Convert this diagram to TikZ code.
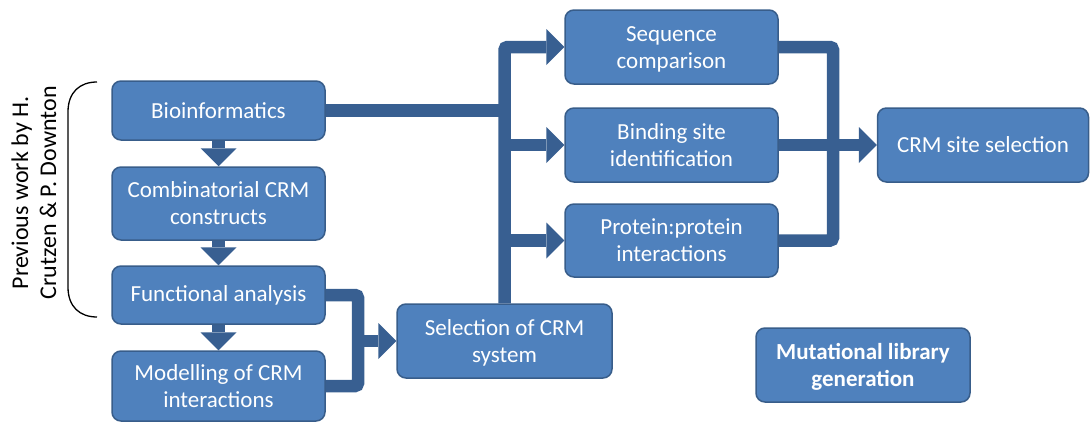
\documentclass[tikz,border=0pt]{standalone}
\usepackage{fontspec}
\setmainfont{Carlito}
\usetikzlibrary{arrows.meta}
\definecolor{boxfill}{HTML}{4F81BD}
\definecolor{boxedge}{HTML}{385D8A}
\definecolor{flow}{HTML}{385F91}
\begin{document}
\begin{tikzpicture}[x=1pt,y=-1pt,
  stage/.style={draw=boxedge, line width=1.5pt, fill=boxfill, rounded corners=9pt,
    text=white, align=center, font=\fontsize{23}{27}\selectfont,
    minimum width=213pt, inner sep=0pt},
  twoline/.style={text height=48pt, text depth=6pt},
  flowline/.style={draw=flow, line width=12.5pt, rounded corners=3pt},
  flowarrow/.style={flowline, -{Triangle[length=18pt,width=36pt,line width=0pt]}}]
\useasboundingbox (0,0) rectangle (1090,423);

% process stages
\node[stage, minimum height=59pt] (bio) at (218.5,110.5) {Bioinformatics};
\node[stage, twoline, minimum height=73pt] (comb) at (218.5,203.5) {Combinatorial CRM\\constructs};
\node[stage, minimum height=58pt] (func) at (218.5,295) {Functional analysis};
\node[stage, twoline, minimum height=70pt] (mod) at (218.5,386) {Modelling of CRM\\interactions};
\node[stage, twoline, minimum width=215pt, minimum height=74pt] (sel) at (504.5,341) {Selection of CRM\\system};
\node[stage, twoline, minimum height=74pt] (seq) at (671.5,47) {Sequence\\comparison};
\node[stage, twoline, minimum height=74pt] (bind) at (671.5,145) {Binding site\\identification};
\node[stage, twoline, minimum height=73pt] (prot) at (671.5,240.5) {Protein:protein\\interactions};
\node[stage, minimum width=211pt, minimum height=74pt] (crm) at (983,145) {CRM site selection};
\node[stage, twoline, minimum width=214pt, minimum height=74pt,
      font=\fontsize{23}{27}\selectfont\bfseries] (mut) at (863,365) {Mutational library\\generation};

% earlier work bracket and its label
\draw[line width=1.3pt] (97,82) .. controls (80,82) and (68,92) .. (68,112)
  -- (68,287) .. controls (68,307) and (80,317) .. (97,317);
\node[rotate=90, align=center, font=\fontsize{24}{28}\selectfont] (prev) at (34,193)
  {Previous work by H.\\Crutzen \& P. Downton};

% vertical chain on the left
\draw[flowarrow] (bio.south) -- (comb.north);
\draw[flowarrow] (comb.south) -- (func.north);
\draw[flowarrow] (func.south) -- (mod.north);

% merge into system selection
\coordinate (lj) at (358,341);
\draw[flowline] (func.east) -| (lj) |- (mod.east);
\draw[flowarrow] (lj) -- (sel.west);

% distribution bus
\draw[flowarrow] (sel.north) |- (seq.west);
\draw[flowline] (bio.east) -- (bio.east -| sel.north);
\draw[flowarrow] (sel.north |- bind.west) -- (bind.west);
\draw[flowarrow] (sel.north |- prot.west) -- (prot.west);

% merge into site selection
\coordinate (rj) at (833,145);
\draw[flowline] (seq.east) -| (rj) |- (prot.east);
\draw[flowarrow] (bind.east) -- (crm.west);
\end{tikzpicture}
\end{document}
